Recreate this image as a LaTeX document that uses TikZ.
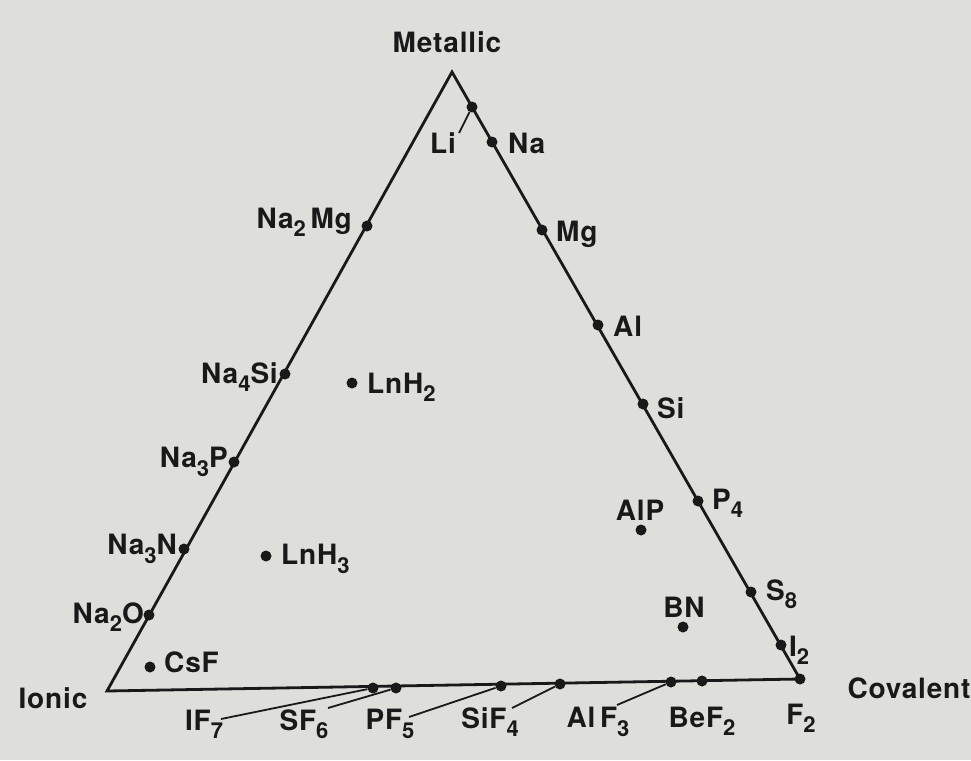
\documentclass[tikz,border=0pt]{standalone}
\usepackage{fontspec}
\setmainfont{TeX Gyre Heros}[LetterSpace=3]
\definecolor{bg}{RGB}{222,222,219}
\definecolor{ink}{RGB}{25,25,25}
\newcommand\chsub[1]{\raisebox{-0.3em}{\fontsize{22}{22}\selectfont #1}}
\begin{document}
\begin{tikzpicture}[x=1pt,y=-1pt,
  dot/.style={circle,fill=ink,inner sep=0pt,minimum size=11pt},
  lbl/.style={font=\fontsize{28}{28}\selectfont\bfseries,text=ink,inner sep=0pt},
  edgeline/.style={draw=ink,line width=2.8pt,line join=miter},
  lead/.style={draw=ink,line width=1.8pt}]
\fill[bg] (0,0) rectangle (971,760);
\useasboundingbox (0,0) rectangle (971,760);
% corners
\coordinate (met) at (452,72);
\coordinate (ion) at (107,691);
\coordinate (cov) at (800,679);
\draw[edgeline] (met) -- (ion) -- (cov) -- cycle;
% corner labels
\node[lbl] (metl) at (447,42) {Metallic};
\node[lbl] (ionl) at (53,698) {Ionic};
\node[lbl] (covl) at (909,688) {Covalent};
% right edge
\node[dot] (li) at (472,107) {};
\node[dot] (na) at (492,142) {};
\node[dot] (mg) at (542,230) {};
\node[dot] (al) at (598,325) {};
\node[dot] (si) at (643,404) {};
\node[dot] (p4) at (698,501) {};
\node[dot] (s8) at (751,592) {};
\node[dot] (i2) at (781,645) {};
\node[dot] (f2) at (cov) {};
\node[lbl] (lil) at (443,143) {Li};
\coordinate (lilead) at (459,133);
\draw[lead] (li) -- (lilead);
\node[lbl,anchor=west] (nal) at (508,143) {Na};
\node[lbl,anchor=west] (mgl) at (556,234) {Mg};
\node[lbl,anchor=west] (all) at (613,326) {Al};
\node[lbl,anchor=west] (sil) at (657,408) {Si};
\node[lbl,anchor=west] (p4l) at (712,503) {P\chsub{4}};
\node[lbl,anchor=west] (s8l) at (766,594) {S\chsub{8}};
\node[lbl,anchor=west] (i2l) at (789,650) {I\chsub{2}};
\node[lbl] (f2l) at (801,718) {F\chsub{2}};
% left edge
\node[dot] (na2mg) at (367,226) {};
\node[dot] (na4si) at (285,374) {};
\node[dot] (na3p) at (234,462) {};
\node[dot] (na3n) at (184,549) {};
\node[dot] (na2o) at (149,615) {};
\node[lbl,anchor=east] (na2mgl) at (352,222) {Na\chsub{2}\,Mg};
\node[lbl,anchor=east] (na4sil) at (278,377) {Na\chsub{4}Si};
\node[lbl,anchor=east] (na3pl) at (228,462) {Na\chsub{3}P};
\node[lbl,anchor=east] (na3nl) at (177,549) {Na\chsub{3}N};
\node[lbl,anchor=east] (na2ol) at (144,617) {Na\chsub{2}O};
% interior
\node[dot] (csf) at (150,667) {};
\node[lbl,anchor=west] (csfl) at (164,662) {CsF};
\node[dot] (lnh2) at (352,383) {};
\node[lbl,anchor=west] (lnh2l) at (367,387) {LnH\chsub{2}};
\node[dot] (lnh3) at (266,556) {};
\node[lbl,anchor=west] (lnh3l) at (281,559) {LnH\chsub{3}};
\node[dot] (alp) at (641,530) {};
\node[lbl] (alpl) at (640,510) {AlP};
\node[dot] (bn) at (683,627) {};
\node[lbl] (bnl) at (684,607) {BN};
% bottom edge
\node[dot] (if7) at (373,688) {};
\node[dot] (sf6) at (396,688) {};
\node[dot] (pf5) at (501,686) {};
\node[dot] (sif4) at (560,684) {};
\node[dot] (alf3) at (671,682) {};
\node[dot] (bef2) at (702,681) {};
\node[lbl] (if7l) at (204,724) {IF\chsub{7}};
\node[lbl] (sf6l) at (304,724) {SF\chsub{6}};
\node[lbl] (pf5l) at (390,724) {PF\chsub{5}};
\node[lbl] (sif4l) at (490,722) {SiF\chsub{4}};
\node[lbl] (alf3l) at (598,722) {Al\,F\chsub{3}};
\node[lbl] (bef2l) at (702,721) {BeF\chsub{2}};
\coordinate (if7lead) at (221,719);
\coordinate (sf6lead) at (328,708);
\coordinate (pf5lead) at (409,717);
\coordinate (sif4lead) at (512,708);
\coordinate (alf3lead) at (617,705);
\draw[lead] (if7) -- (if7lead);
\draw[lead] (sf6) -- (sf6lead);
\draw[lead] (pf5) -- (pf5lead);
\draw[lead] (sif4) -- (sif4lead);
\draw[lead] (alf3) -- (alf3lead);
\end{tikzpicture}
\end{document}
